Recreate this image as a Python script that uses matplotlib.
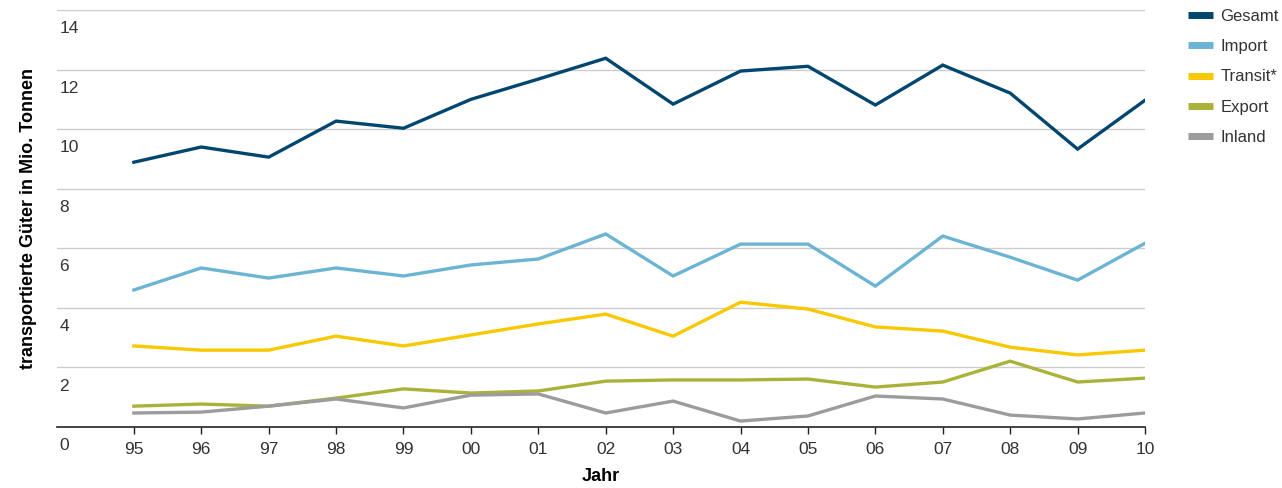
import matplotlib.pyplot as plt
import matplotlib.transforms as mtransforms

jahre = ['95', '96', '97', '98', '99', '00', '01', '02', '03', '04', '05', '06', '07', '08', '09', '10']
gesamt = [8.89, 9.40, 9.06, 10.27, 10.03, 11.0, 11.68, 12.38, 10.84, 11.95, 12.11, 10.81, 12.15, 11.21, 9.33, 10.97]
importe = [4.60, 5.34, 5.0, 5.34, 5.07, 5.44, 5.64, 6.48, 5.07, 6.14, 6.14, 4.73, 6.41, 5.70, 4.93, 6.17]
transit = [2.72, 2.58, 2.58, 3.05, 2.72, 3.09, 3.46, 3.79, 3.05, 4.19, 3.96, 3.36, 3.22, 2.68, 2.42, 2.58]
export = [0.70, 0.77, 0.70, 0.97, 1.28, 1.14, 1.21, 1.54, 1.58, 1.58, 1.61, 1.34, 1.51, 2.21, 1.51, 1.64]
inland = [0.47, 0.50, 0.70, 0.94, 0.64, 1.07, 1.11, 0.47, 0.87, 0.20, 0.37, 1.04, 0.94, 0.40, 0.27, 0.47]

namen = ['Gesamt', 'Import', 'Transit*', 'Export', 'Inland']
farben = ['#00466e', '#6cb4d3', '#f8c800', '#aab23a', '#9a9c9e']
yticks = [0, 2, 4, 6, 8, 10, 12, 14]

plt.rcParams['font.family'] = ['Liberation Sans', 'DejaVu Sans']

fig = plt.figure(figsize=(12.82, 4.88), dpi=100)
ax = fig.add_axes([57 / 1282, 1 - 427 / 488, (1145 - 57) / 1282, (427 - 10) / 488])

x = list(range(len(jahre)))
for werte, name, farbe in zip([gesamt, importe, transit, export, inland], namen, farben):
    ax.plot(x, werte, color=farbe, lw=2.4, label=name, solid_joinstyle='miter')

ax.set_xlim(-1.14, len(jahre) - 1)
ax.set_ylim(0, 14)

# Gitterlinien
for y in yticks[1:]:
    ax.axhline(y, color='#cccccc', lw=1.0, zorder=0)

for s in ['top', 'right', 'left']:
    ax.spines[s].set_visible(False)
ax.spines['bottom'].set_color('#222222')
ax.spines['bottom'].set_linewidth(1.2)

ax.set_yticks([])
ax.set_xticks(x)
ax.set_xticklabels(jahre, fontsize=12.5, color='#333333')
ax.tick_params(axis='x', length=5, width=1, color='#222222', pad=6)

# y-Beschriftung unterhalb der Gitterlinien
trans = mtransforms.blended_transform_factory(ax.transAxes, ax.transData)
off = mtransforms.offset_copy(trans, fig=fig, x=0, y=-8, units='points')
for y in yticks:
    ax.text(0.002, y, str(y), transform=off, ha='left', va='top', fontsize=12.5, color='#333333')

ax.set_ylabel('transportierte Güter in Mio. Tonnen', fontsize=13, fontweight='bold')
ax.yaxis.set_label_coords(-0.018, 0.5)
ax.set_xlabel('Jahr', fontsize=13, fontweight='bold', labelpad=8)

leg = ax.legend(loc='upper left', bbox_to_anchor=((1188 - 57) / 1088, 1.003), frameon=False,
                fontsize=12, borderaxespad=0, borderpad=0,
                handlelength=1.5, handletextpad=0.45, labelspacing=0.92)
for line in leg.get_lines():
    line.set_linewidth(5)
    line.set_solid_capstyle('butt')
for t in leg.get_texts():
    t.set_color('#333333')

fig.savefig('out.png', dpi=100)
